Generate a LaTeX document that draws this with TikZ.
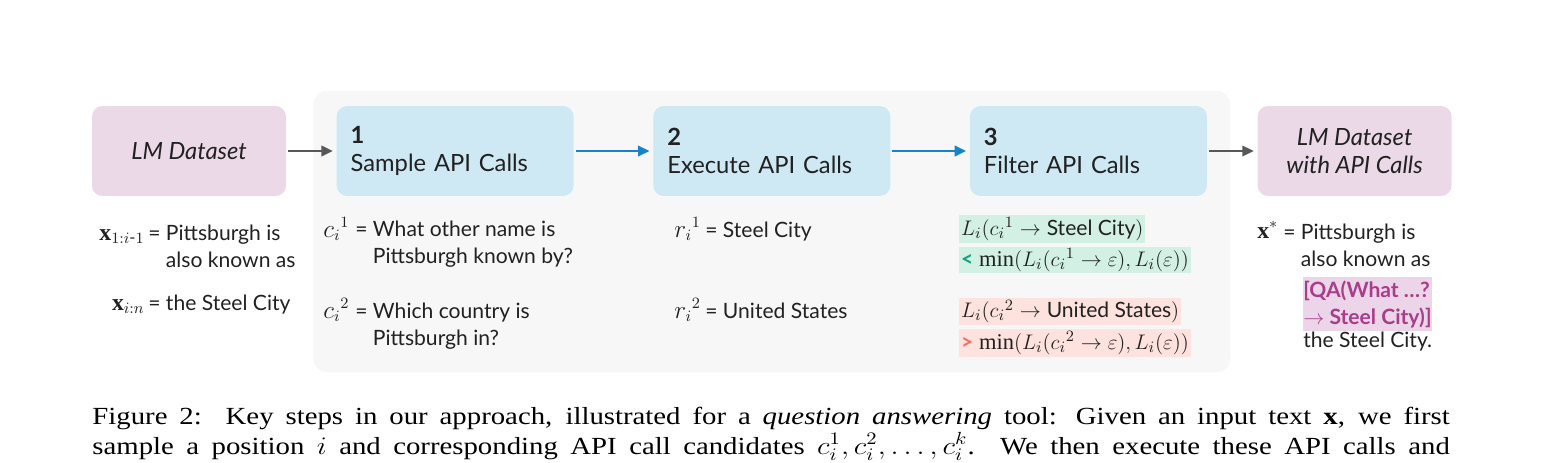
\documentclass[tikz,border=0pt]{standalone}
\usepackage{amsmath}
\usepackage{fontspec}
\setmainfont{Liberation Serif}
\newfontfamily\diagfont{Lato}
\usepackage{tikz}
\usetikzlibrary{arrows.meta, positioning, fit, backgrounds}
\definecolor{txtdark}{RGB}{33,33,33}
\definecolor{boxpink}{RGB}{235,217,231}
\definecolor{boxblue}{RGB}{206,232,244}
\definecolor{panelgray}{RGB}{247,247,247}
\definecolor{arrgray}{RGB}{88,88,88}
\definecolor{arrblue}{RGB}{22,132,202}
\definecolor{hlgreen}{RGB}{210,240,228}
\definecolor{okgreen}{RGB}{20,160,120}
\definecolor{hlred}{RGB}{253,226,222}
\definecolor{badred}{RGB}{240,110,100}
\definecolor{hlqa}{RGB}{236,213,232}
\definecolor{qatext}{RGB}{168,62,138}
\newcommand{\lbltxt}[1]{\text{\fontsize{12}{14}\selectfont #1}}
\tikzset{
  basebox/.style={rectangle,rounded corners=6pt,text=txtdark,inner sep=0pt,
    font=\diagfont\fontsize{13.5}{16}\selectfont},
  datanode/.style={basebox,fill=boxpink,align=center,minimum width=3.88cm,minimum height=1.8cm},
  stepnode/.style={basebox,fill=boxblue,align=left,text width=4.18cm,inner xsep=0.28cm,
    minimum height=1.8cm},
  lbl/.style={inner sep=0pt,text=txtdark,align=left,font=\diagfont\fontsize{12}{15.3}\selectfont},
  lblmath/.style={lbl,font=\diagfont\fontsize{13.5}{16}\selectfont},
  hlbox/.style={lbl,font=\diagfont\fontsize{12.8}{15}\selectfont,inner xsep=1pt,anchor=west},
  capline/.style={inner sep=0pt,anchor=base west,xscale=1.17,transform shape,
    font=\fontsize{14}{17}\selectfont},
  grayarr/.style={-{Triangle[length=6.5pt,width=6pt]},line width=1.1pt,color=arrgray,
    shorten <=1pt,shorten >=2pt},
  bluearr/.style={-{Triangle[length=6.5pt,width=6pt]},line width=1.1pt,color=arrblue,
    shorten <=1pt,shorten >=2pt}
}

\begin{document}
\begin{tikzpicture}[x=0.02cm,y=-0.02cm]
  \useasboundingbox (0,0) rectangle (1542,463);

  % pipeline boxes
  \node[datanode] (ds) at (189,151) {\itshape LM Dataset};
  \node[stepnode,right=1cm of ds] (s1) {\textbf{1}\\Sample API Calls};
  \node[stepnode,right=1.58cm of s1] (s2) {\textbf{2}\\Execute API Calls};
  \node[stepnode,right=1.58cm of s2] (s3) {\textbf{3}\\Filter API Calls};
  \node[datanode,right=1cm of s3] (out) {\itshape LM Dataset\\\itshape with API Calls};

  \draw[grayarr] (ds) -- (s1);
  \draw[bluearr] (s1) -- (s2);
  \draw[bluearr] (s2) -- (s3);
  \draw[grayarr] (s3) -- (out);

  % input text (multi-line nodes sit on their last baseline)
  \node[lblmath,anchor=base east] (xpre) at (145,240) {$\mathbf{x}_{1:i\text{-}1}$};
  \node[lbl,anchor=base west] (xpret) at (148,267) {= Pittsburgh is\\\hphantom{= }also known as};
  \node[lblmath,anchor=base east] (xsuf) at (145,310) {$\mathbf{x}_{i:n}$};
  \node[lbl,anchor=base west] (xsuft) at (148,310) {= the Steel City};

  % sampled calls
  \node[lblmath,anchor=base west] (ca) at (323,237) {$c_i{}^1$};
  \node[lbl,anchor=base west] (cat) at (355,263) {= What other name is\\\hphantom{= }Pittsburgh known by?};
  \node[lblmath,anchor=base west] (cb) at (323,318) {$c_i{}^2$};
  \node[lbl,anchor=base west] (cbt) at (355,345) {= Which country is\\\hphantom{= }Pittsburgh in?};

  % responses
  \node[lblmath,anchor=base west] (ra) at (674,237) {$r_i{}^1$};
  \node[lbl,anchor=base west] (rat) at (705,237) {= Steel City};
  \node[lblmath,anchor=base west] (rb) at (674,318) {$r_i{}^2$};
  \node[lbl,anchor=base west] (rbt) at (705,318) {= United States};

  % filtering
  \node[hlbox,fill=hlgreen,minimum height=0.56cm] (fa) at (959,229)
      {$L_i(c_i{}^1 \rightarrow \lbltxt{Steel City})$};
  \node[hlbox,fill=hlgreen,minimum height=0.52cm] (fb) at (959,260)
      {\lbltxt{\textcolor{okgreen}{\bfseries<}} $\min(L_i(c_i{}^1 \rightarrow \varepsilon), L_i(\varepsilon))$};
  \node[hlbox,fill=hlred,minimum height=0.54cm] (fc) at (959,311.5)
      {$L_i(c_i{}^2 \rightarrow \lbltxt{United States})$};
  \node[hlbox,fill=hlred,minimum height=0.56cm] (fd) at (959,343)
      {\lbltxt{\textcolor{badred}{\bfseries>}} $\min(L_i(c_i{}^2 \rightarrow \varepsilon), L_i(\varepsilon))$};

  % augmented text
  \node[lblmath,anchor=base west] (xs) at (1257,238) {$\mathbf{x}^{*}$};
  \node[lbl,anchor=base west] (xst) at (1283,266) {= Pittsburgh is\\\hphantom{= }also known as};
  \node[lbl,anchor=north west,fill=hlqa,inner ysep=2pt,text=qatext,font=\diagfont\bfseries\fontsize{12}{15.3}\selectfont]
      (qa) at (1303,277) {[QA(What …?\\$\rightarrow$ Steel City)]};
  \node[lbl,anchor=base west] (xsend) at (1303,347) {the Steel City.};

  % caption
  \node[capline] (cap1) at (92,424) {\makebox[23.21cm][s]{Figure 2:\ \ Key steps in our approach, illustrated for a \textit{question answering} tool: Given an input text $\mathbf{x}$, we first}};
  \node[capline] (cap2) at (92,454) {\makebox[23.21cm][s]{sample a position $i$ and corresponding API call candidates $c_i^1, c_i^2, \ldots, c_i^k$. We then execute these API calls and}};

  \begin{pgfonlayer}{background}
    \node[rectangle,fill=panelgray,rounded corners=8pt,fit=(s1)(s3)(fd.south),
          inner xsep=0.46cm,inner ysep=0.3cm] (panel) {};
  \end{pgfonlayer}
\end{tikzpicture}
\end{document}
